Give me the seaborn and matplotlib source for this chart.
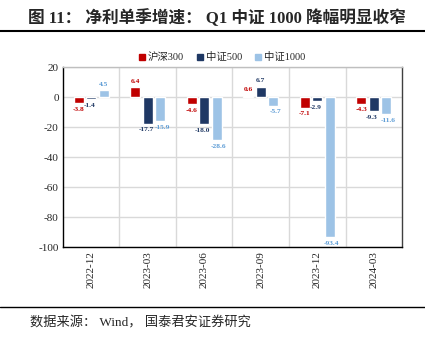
import matplotlib
matplotlib.use("Agg")
import matplotlib.pyplot as plt
import seaborn as sns
import pandas as pd
from matplotlib.lines import Line2D

dates = ["2022-12", "2023-03", "2023-06", "2023-09", "2023-12", "2024-03"]
series_names = ["沪深300", "中证500", "中证1000"]
hs300 = [-3.8, 6.4, -4.6, 0.6, -7.1, -4.3]
zz500 = [-1.4, -17.7, -18.0, 6.7, -2.9, -9.3]
zz1000 = [4.5, -15.9, -28.6, -5.7, -93.4, -11.6]
colors = ["#C00000", "#1F3864", "#9DC3E6"]
label_colors = ["#C00000", "#1F3864", "#5B9BD5"]
yticks = [20, 0, -20, -40, -60, -80, -100]

sns.set_theme(style="white")
fam = ["Liberation Serif", "Noto Sans CJK SC", "DejaVu Sans"]
plt.rcParams["font.family"] = fam

rows = []
for name, vals in zip(series_names, [hs300, zz500, zz1000]):
    for d, v in zip(dates, vals):
        rows.append({"date": d, "series": name, "value": v})
df = pd.DataFrame(rows)

fig = plt.figure(figsize=(4.25, 3.37), dpi=100)
ax = fig.add_axes([0.148, 0.267, 0.798, 0.534])

sns.barplot(data=df, x="date", y="value", hue="series", order=dates,
            hue_order=series_names, palette=colors, width=0.66, gap=0.2,
            saturation=1, ax=ax, legend=False)

ax.set_ylim(-100, 20)
ax.set_xlim(-0.5, len(dates) - 0.5)
ax.set_yticks(yticks)
ax.set_yticklabels([str(t) for t in yticks], fontsize=8)
ax.set_xticks(range(len(dates)))
ax.set_xticklabels(dates, rotation=90, fontsize=8)
ax.set_xlabel("")
ax.set_ylabel("")
ax.tick_params(axis="both", length=0, pad=3)

# grid
for t in yticks:
    ax.axhline(t, color="#D9D9D9", lw=1, zorder=0)
for i in range(1, len(dates)):
    ax.axvline(i - 0.5, color="#D9D9D9", lw=1, zorder=0)
for s in ax.spines.values():
    s.set_visible(True)
    s.set_color("black")
    s.set_linewidth(1)
ax.spines["top"].set_color("#BFBFBF")
ax.spines["right"].set_color("#404040")

# value labels
slot = 0.66 / 3
for j, (vals, lc) in enumerate(zip([hs300, zz500, zz1000], label_colors)):
    for i, v in enumerate(vals):
        x = i + (j - 1) * slot
        dx = 0.0
        if j == 2 and v < 0:
            dx = 0.04
        if j == 1 and v < 0:
            dx = -0.03
        if v >= 0:
            ax.text(x + dx, v + 2.5, f"{v:.1f}", ha="center", va="bottom",
                    fontsize=5.3, color=lc, fontweight="bold")
        else:
            ax.text(x + dx, v - 2.5, f"{v:.1f}", ha="center", va="top",
                    fontsize=5.3, color=lc, fontweight="bold", clip_on=False)

# legend
handles = [Line2D([0], [0], marker="s", color="none", markerfacecolor=c,
                  markeredgecolor=c, markersize=5) for c in colors]
fig.legend(handles, series_names, loc="center", bbox_to_anchor=(0.52, 0.83),
           ncol=3, frameon=False, fontsize=7.5, handletextpad=0.1,
           columnspacing=1.0, handlelength=1.0)

# title and footer
fig.text(0.065, 0.945, "图 11： 净利单季增速： Q1 中证 1000 降幅明显收窄",
         fontsize=12, fontweight="bold", ha="left", va="center")
fig.add_artist(Line2D([0.0, 1.0], [0.908, 0.908], color="black", lw=1.5,
                      transform=fig.transFigure))
fig.add_artist(Line2D([0.0, 1.0], [0.089, 0.089], color="black", lw=1,
                      transform=fig.transFigure))
fig.text(0.07, 0.043, "数据来源： Wind， 国泰君安证券研究", fontsize=9.5,
         ha="left", va="center")

fig.savefig("out.png", dpi=100)
